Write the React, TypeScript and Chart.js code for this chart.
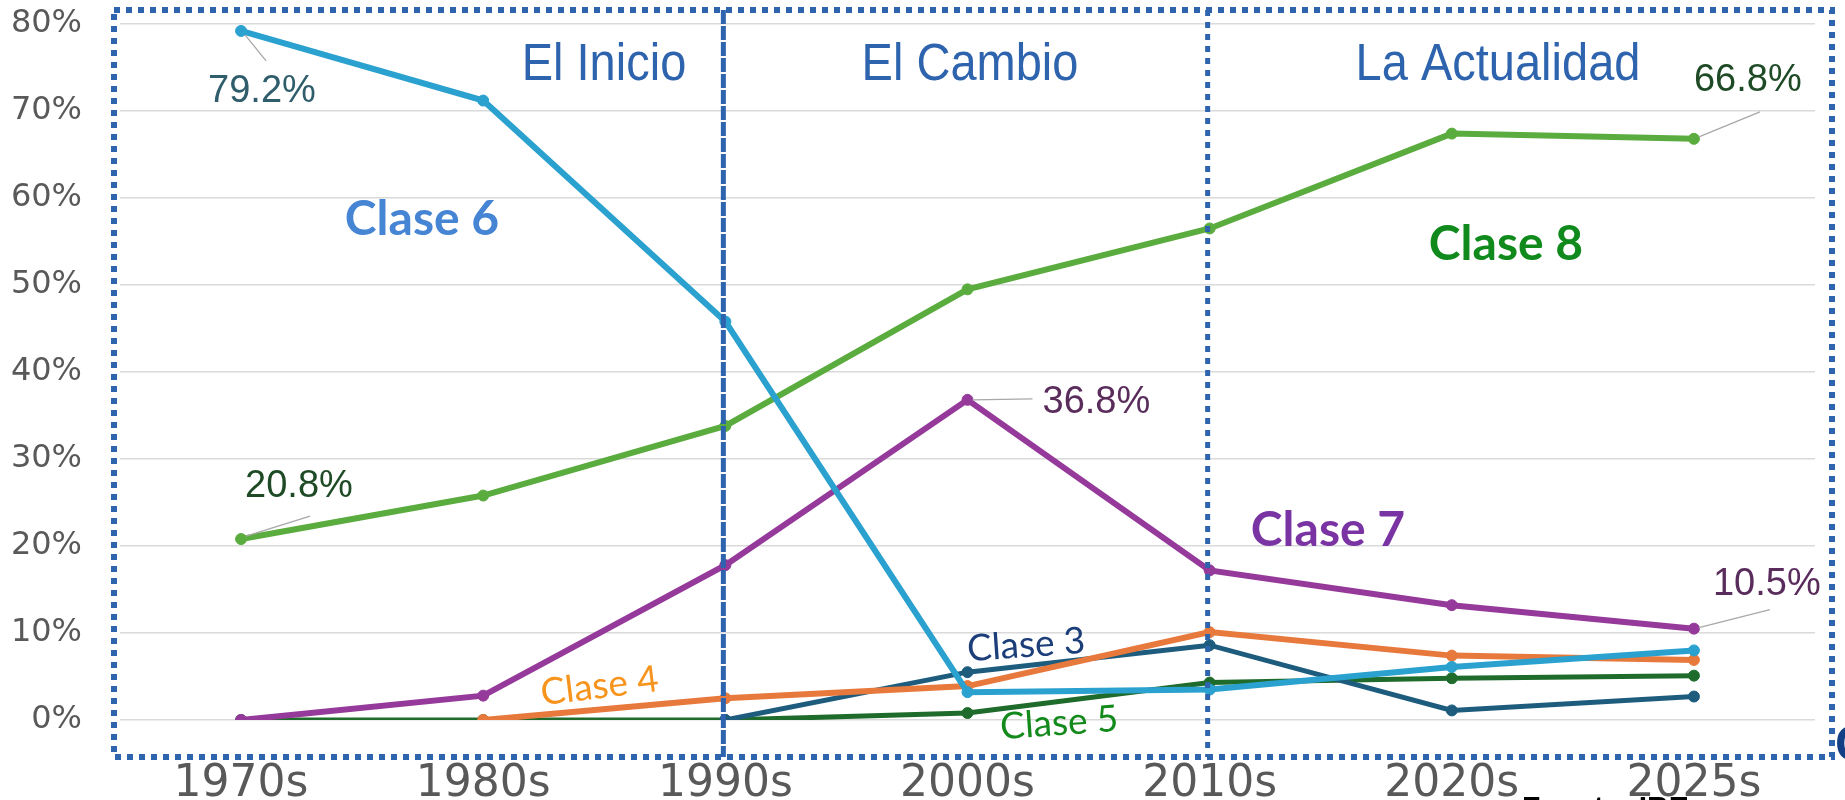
import React, { useEffect, useRef } from "react";
import { Chart, registerables } from "chart.js";

Chart.register(...registerables);

const decades = ["1970s", "1980s", "1990s", "2000s", "2010s", "2020s", "2025s"];
const clase6 = [79.2, 71.2, 45.8, 3.2, 3.5, 6.1, 8.0];
const clase8 = [20.8, 25.8, 33.8, 49.5, 56.5, 67.4, 66.8];
const clase7 = [0, 2.8, 17.8, 36.8, 17.2, 13.2, 10.5];
const clase4 = [null, 0, 2.5, 3.9, 10.1, 7.4, 6.9];
const clase3 = [null, null, 0, 5.5, 8.6, 1.1, 2.7];
const clase5 = [0, 0, 0, 0.8, 4.3, 4.8, 5.1];
const yTickValues = [0, 10, 20, 30, 40, 50, 60, 70, 80];
const periodNames = ["El Inicio", "El Cambio", "La Actualidad"];
const className6 = "Clase 6";
const className8 = "Clase 8";
const className7 = "Clase 7";
const className3 = "Clase 3";
const className5 = "Clase 5";
const className4 = "Clase 4";
const sourceText = "Fuente: IBE";

const BLUE = "#2e63ae";

function txt(
  ctx: CanvasRenderingContext2D,
  t: string,
  x: number,
  y: number,
  font: string,
  color: string,
  align: CanvasTextAlign = "center",
  rot = 0,
  sx = 1,
  sy = 1
) {
  ctx.save();
  ctx.translate(x, y);
  ctx.rotate((rot * Math.PI) / 180);
  ctx.scale(sx, sy);
  ctx.font = font;
  ctx.fillStyle = color;
  ctx.textAlign = align;
  ctx.textBaseline = "alphabetic";
  ctx.fillText(t, 0, 0);
  ctx.restore();
}

function leader(ctx: CanvasRenderingContext2D, x1: number, y1: number, x2: number, y2: number) {
  ctx.save();
  ctx.strokeStyle = "#a8a8a8";
  ctx.lineWidth = 1.3;
  ctx.setLineDash([]);
  ctx.beginPath();
  ctx.moveTo(x1, y1);
  ctx.lineTo(x2, y2);
  ctx.stroke();
  ctx.restore();
}

const overlay = {
  id: "overlay",
  afterDatasetsDraw(chart: any) {
    const ctx: CanvasRenderingContext2D = chart.ctx;
    const xs = chart.scales.x;
    const pt = (ds: number, i: number) => chart.getDatasetMeta(ds).data[i];

    const labelFont = "38px 'Liberation Sans', Arial, sans-serif";
    // dataset indices: 0 clase6, 1 clase8, 2 clase7, 3 clase4, 4 clase3, 5 clase5
    let p = pt(0, 0);
    leader(ctx, p.x + 4, p.y + 4, p.x + 25, p.y + 30);
    txt(ctx, clase6[0].toFixed(1) + "%", p.x - 33, p.y + 71, labelFont, "#2f5d6b", "left");

    p = pt(1, 0);
    leader(ctx, p.x + 5, p.y - 3, p.x + 69, p.y - 23);
    txt(ctx, clase8[0].toFixed(1) + "%", p.x + 4, p.y - 42, labelFont, "#1f4a26", "left");

    p = pt(2, 3);
    leader(ctx, p.x + 5, p.y, p.x + 65, p.y - 1);
    txt(ctx, clase7[3].toFixed(1) + "%", p.x + 75, p.y + 13, labelFont, "#5a2c5c", "left");

    p = pt(1, 6);
    leader(ctx, p.x + 5, p.y - 2, p.x + 66, p.y - 27);
    txt(ctx, clase8[6].toFixed(1) + "%", p.x, p.y - 48, labelFont, "#1f4a26", "left");

    p = pt(2, 6);
    leader(ctx, p.x + 5, p.y - 1, p.x + 76, p.y - 19);
    txt(ctx, clase7[6].toFixed(1) + "%", p.x + 19, p.y - 34, labelFont, "#5a2c5c", "left");

    const hFont = "47px 'Liberation Sans', Arial, sans-serif";
    txt(ctx, periodNames[0], 604, 80, hFont, BLUE, "center", 0, 1, 1.1);
    txt(ctx, periodNames[1], 970, 80, hFont, BLUE, "center", 0, 1, 1.1);
    txt(ctx, periodNames[2], 1498, 80, hFont, BLUE, "center", 0, 1, 1.1);

    const bFont = "bold 48px Lato, 'Open Sans', sans-serif";
    const rFont = "37px Lato, 'Open Sans', sans-serif";
    txt(ctx, className6, 422, 235, bFont, "#4585d3");
    txt(ctx, className8, 1506, 260, bFont, "#108a1c");
    txt(ctx, className7, 1328, 546, bFont, "#7a33a3");
    txt(ctx, className3, 1027, 657, rFont, "#1c3e79", "center", -4);
    txt(ctx, className5, 1060, 735, rFont, "#138a1b", "center", -4);
    txt(ctx, className4, 601, 698, rFont, "#f7941d", "center", -7);

    ctx.save();
    ctx.strokeStyle = BLUE;
    ctx.lineWidth = 6;
    ctx.setLineDash([6, 6]);
    ctx.strokeRect(114, 10, 1718, 747);
    const x1990 = xs.getPixelForValue(2) - 2;
    const x2010 = xs.getPixelForValue(4) - 2;
    ctx.lineWidth = 5;
    ctx.setLineDash([14, 2]);
    ctx.beginPath();
    ctx.moveTo(x1990, 10);
    ctx.lineTo(x1990, 757);
    ctx.stroke();
    ctx.setLineDash([6, 6]);
    ctx.beginPath();
    ctx.moveTo(x2010, 10);
    ctx.lineTo(x2010, 757);
    ctx.stroke();
    ctx.restore();

    ctx.save();
    ctx.font = "bold 30px 'Liberation Sans', Arial, sans-serif";
    ctx.fillStyle = "#000";
    ctx.textAlign = "left";
    ctx.textBaseline = "top";
    ctx.fillText(sourceText, 1522, 794);
    ctx.font = "bold 50px 'Liberation Sans', Arial, sans-serif";
    ctx.fillStyle = "#123f85";
    ctx.fillText("C", 1835, 722);
    ctx.restore();
  },
};

const mk = (label: string, data: (number | null)[], color: string, width: number) => ({
  label,
  data,
  borderColor: color,
  backgroundColor: color,
  pointBackgroundColor: color,
  pointBorderColor: color,
  borderWidth: width,
  pointRadius: 5.5,
  pointBorderWidth: 1,
  tension: 0,
  spanGaps: false,
});

export default function App() {
  const ref = useRef<HTMLCanvasElement>(null);
  useEffect(() => {
    const chart = new Chart(ref.current!, {
      type: "line",
      data: {
        labels: decades,
        datasets: [
          mk(className6, clase6, "#2aa1cf", 6),
          mk(className8, clase8, "#5bac3e", 6),
          mk(className7, clase7, "#953a9a", 6),
          mk(className4, clase4, "#e8793c", 6),
          mk(className3, clase3, "#1e5c7e", 5),
          mk(className5, clase5, "#1f6b2c", 5),
        ] as any,
      },
      options: {
        responsive: false,
        animation: false,
        layout: { padding: { left: 0, right: 30, top: 24, bottom: 0 } },
        plugins: { legend: { display: false }, tooltip: { enabled: false } },
        scales: {
          x: {
            offset: true,
            grid: { display: false, drawTicks: false },
            border: { display: false },
            ticks: {
              padding: 38,
              color: "#595959",
              font: { family: "'DejaVu Sans'", size: 44 },
              maxRotation: 0,
            },
            afterFit: (s: any) => {
              s.height = 80;
            },
          },
          y: {
            min: yTickValues[0],
            max: yTickValues[yTickValues.length - 1],
            afterBuildTicks: (s: any) => {
              s.ticks = yTickValues.map((v) => ({ value: v }));
            },
            ticks: {
              padding: 0,
              color: "#595959",
              font: { family: "'DejaVu Sans'", size: 32, lineHeight: 0.2 },
              callback: (v: any) => v + "%",
            },
            grid: {
              color: "#dadada",
              lineWidth: 1.5,
              drawTicks: true,
              tickLength: 38,
              tickColor: "rgba(0,0,0,0)",
            },
            border: { display: false },
            afterFit: (s: any) => {
              s.width = 120;
            },
          },
        },
      } as any,
      plugins: [overlay],
    });
    return () => chart.destroy();
  }, []);
  return (
    <div style={{ position: "fixed", left: 0, top: 0, width: 1845, height: 800, background: "#fff" }}>
      <canvas ref={ref} width={1845} height={800} style={{ display: "block", width: 1845, height: 800 }} />
    </div>
  );
}
